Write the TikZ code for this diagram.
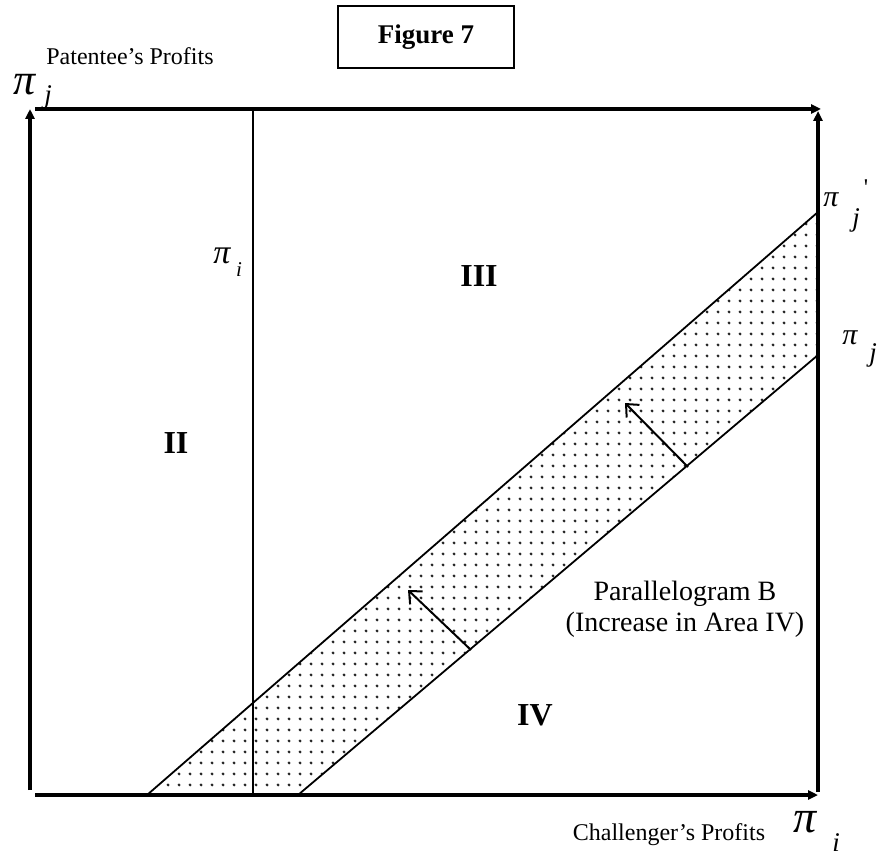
\documentclass[tikz,border=0pt]{standalone}
\usepackage{fontspec}
\setmainfont{Liberation Serif}
\usetikzlibrary{arrows.meta,patterns.meta}

\begin{document}
\begin{tikzpicture}[x=1pt,y=-1pt]
    % Define styles
    \tikzstyle{axisline} = [line width=4pt, -{Triangle[length=10pt,width=9pt]}]
    \tikzstyle{thinline} = [line width=1.8pt]
    \tikzstyle{shiftarrow} = [line width=2pt, -{Straight Barb[length=10pt,width=18pt]}]
    \tikzstyle{region} = [inner sep=0pt, font=\fontsize{32}{32}\selectfont\bfseries]
    \tikzstyle{axislabel} = [inner sep=0pt, font=\fontsize{24}{24}\selectfont]
    \tikzstyle{bigpi} = [inner sep=0pt, font=\fontsize{44}{44}\selectfont\itshape]
    \tikzstyle{smallpi} = [inner sep=0pt, font=\fontsize{30}{30}\selectfont\itshape]
    \tikzstyle{index} = [inner sep=0pt, font=\fontsize{27}{27}\selectfont\itshape]

    \useasboundingbox (0,0) rectangle (883,858);

    % Axes and box
    \coordinate (lbot) at (30,790);
    \coordinate (ltop) at (30,109);
    \coordinate (bleft) at (35,795);
    \coordinate (bright) at (818,795);
    \coordinate (tleft) at (35,109);
    \coordinate (tright) at (821,109);
    \coordinate (rbot) at (818,792);
    \coordinate (rtop) at (818,111);

    % Parallelogram B
    \coordinate (pa) at (147,795);
    \coordinate (pb) at (298,795);
    \coordinate (pc) at (818,355);
    \coordinate (pd) at (818,212);
    \fill[pattern={Dots[radius=1.6pt,distance=10.5pt]}, pattern color=black!85]
        (pa) -- (pb) -- (pc) -- (pd) -- cycle;
    \draw[thinline] (pa) -- (pd);
    \draw[thinline] (pb) -- (pc);

    % Vertical line at pi_i
    \coordinate (vtop) at (253,109);
    \coordinate (vbot) at (253,795);
    \draw[thinline] (vtop) -- (vbot);

    \draw[axisline] (lbot) -- (ltop);
    \draw[axisline] (bleft) -- (bright);
    \draw[axisline] (tleft) -- (tright);
    \draw[axisline] (rbot) -- (rtop);

    % Shift arrows
    \coordinate (sa1) at (688,467);
    \coordinate (ea1) at (625,403);
    \coordinate (sa2) at (471,650);
    \coordinate (ea2) at (408,590);
    \draw[shiftarrow] (sa1) -- (ea1);
    \draw[shiftarrow] (sa2) -- (ea2);

    % Title and axis names
    \node[draw, line width=1.2pt, minimum width=176pt, minimum height=62pt,
          font=\fontsize{27}{27}\selectfont\bfseries] (fig) at (426,37) {Figure 7};
    \node[axislabel] (patentee) at (130,56) {Patentee’s Profits};
    \node[axislabel] (challenger) at (669,835) {Challenger’s Profits};

    % Regions
    \node[region] (rII) at (176,443) {II};
    \node[region] (rIII) at (479,276) {III};
    \node[region] (rIV) at (535,715) {IV};
    \node[inner sep=0pt, align=center, font=\fontsize{28}{31}\selectfont]
        (parB) at (685,609) {Parallelogram B\\(Increase in Area IV)};

    % Greek labels
    \node[bigpi] (pijtop) at (25,85) {π};
    \node[index] (jtop) at (48,97) {j};
    \node[bigpi, font=\fontsize{46}{46}\selectfont\itshape] (piibot) at (805,822) {π};
    \node[index] (ibot) at (836,843) {i};
    \node[smallpi, font=\fontsize{34}{34}\selectfont\itshape] (pii) at (222,256) {π};
    \node[index, font=\fontsize{21}{21}\selectfont\itshape] (ii) at (239,270) {i};
    \node[smallpi] (pijnew) at (831,200) {π};
    \node[index] (jnew) at (856,220) {j};
    \node[inner sep=0pt, font=\fontsize{24}{24}\selectfont] (prime) at (866,188) {\textquotesingle};
    \node[smallpi] (pij) at (850,338) {π};
    \node[index] (jold) at (873,355) {j};
\end{tikzpicture}
\end{document}
